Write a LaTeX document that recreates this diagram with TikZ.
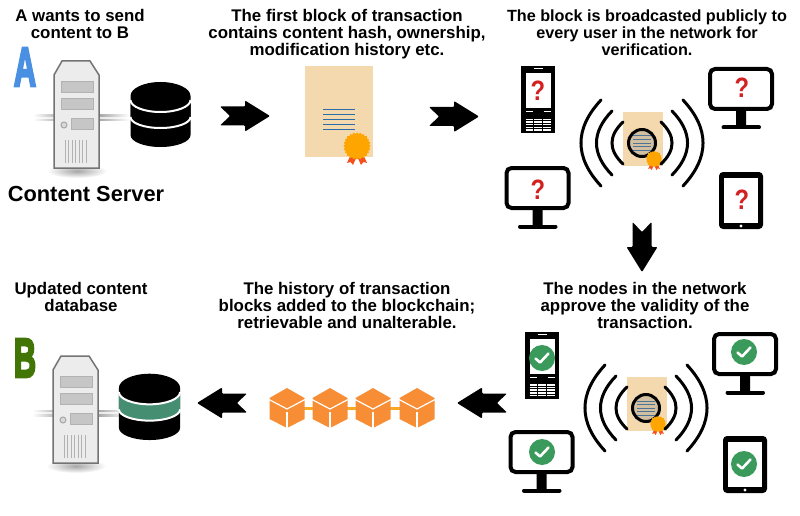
\documentclass[tikz,border=0pt]{standalone}
\usepackage{fontspec}
\setmainfont{Liberation Sans}
\newfontfamily\fatfont[UprightFont=* Bold,FakeBold=5]{Liberation Sans}
\definecolor{paper}{HTML}{F5D9AE}
\definecolor{sealc}{HTML}{FFA500}
\definecolor{ribbon}{HTML}{F4511E}
\definecolor{inkblue}{HTML}{2A6CA6}
\definecolor{cubec}{HTML}{F78D35}
\definecolor{linkc}{HTML}{F9A825}
\definecolor{okc}{HTML}{3A9A5C}
\definecolor{bandc}{HTML}{468E72}
\definecolor{qc}{HTML}{D32020}
\definecolor{letA}{HTML}{4A90E2}
\definecolor{letB}{HTML}{417505}
\tikzset{
legende/.style={align=center,font=\fontsize{16.85}{17}\selectfont\bfseries,inner sep=0pt,anchor=north},
lettre/.style={inner sep=0pt,text=#1,font=\fontsize{55}{55}\fatfont},
marque/.style={inner sep=0pt,text=qc,font=\fontsize{28}{28}\selectfont\bfseries},
lien/.style={linkc,line width=3pt},
onde/.style={line width=3pt,line cap=round},
arrowpic/.pic={\fill[rounded corners=1pt] (-25,-9.5) -- (-15,0) -- (-25,9.5) -- (0,9.5) -- (0,15.5) -- (25,0) -- (0,-15.5) -- (0,-9.5) -- cycle;},
sealpic/.pic={
\fill[ribbon] (-6,8) -- (-10,17) -- (-6.5,16) -- (-4,19) -- (0,10) -- cycle;
\fill[ribbon] (6,8) -- (10,17) -- (6.5,16) -- (4,19) -- (0,10) -- cycle;
\foreach \a in {0,15,...,75} \fill[sealc,rotate=\a] (-9.7,-9.7) rectangle (9.7,9.7);
\fill[sealc] (0,0) circle (11.2);},
serverpic/.pic={
\shade[inner color=gray!70,outer color=white] (23,110) ellipse (30 and 7);
\foreach \cx/\lc/\rc in {-21/white/gray!70,45/gray!70/white}
\shade[left color=\lc,right color=\rc] (\cx,54) rectangle (\cx+30,60);
\foreach \cx in {-21,45}
\fill[white,opacity=.75] (\cx,56) rectangle (\cx+30,58);
\draw[fill=gray!15,draw=gray!90!black,line width=1.5pt] (0,14) -- (8,0) -- (36,0) -- (45,14) -- (45,107) -- (0,107) -- cycle;
\foreach \by in {20,37} \draw[fill=gray!45,draw=gray!60] (7,\by) rectangle (39,\by+11);
\draw[fill=gray!45,draw=gray!60] (17,57) rectangle (39,68);
\draw[fill=gray!30,draw=gray!70,line width=1pt] (10,64) circle (3);
\foreach \gx in {11,14.5,...,34} \draw[gray!60,line width=.8pt] (\gx,79) -- (\gx,102);},
dbpic/.pic={
\fill (-30,0) -- (-30,39) arc[start angle=180,end angle=0,x radius=30,y radius=12] -- (30,0) arc[start angle=0,end angle=-180,x radius=30,y radius=14] -- cycle;
\fill[#1] (-30,4) arc[start angle=180,end angle=0,x radius=30,y radius=12] -- (30,21) arc[start angle=0,end angle=180,x radius=30,y radius=11] -- cycle;
\foreach \sy/\ry in {4/12,21/11}
\draw[white,line width=2pt] (-30,\sy) arc[start angle=180,end angle=0,x radius=30,y radius=\ry];},
dbpic/.default=black,
bigcert/.pic={
\fill[paper] (0,0) rectangle (68,91);
\foreach \ly in {44,49,...,64} \draw[inkblue,line width=1pt] (18,\ly) -- (50,\ly);
\pic at (52,80) {sealpic};},
smallcert/.pic={
\fill[paper] (-19.5,-31) rectangle (20.5,23);
\fill[paper!70!gray] (0,0) circle (13);
\foreach \ly in {-7,-3.5,...,7} \draw[inkblue!60!gray,line width=1pt] (-9,\ly) -- (9,\ly);
\draw[line width=3pt] (0,0) circle (13.5);
\pic[scale=.58] at (12,16) {sealpic};
\foreach \sg in {1,-1} {
\draw[onde] (\sg*19,-21) .. controls (\sg*33.7,-7) and (\sg*33.7,7) .. (\sg*19,21);
\draw[onde] (\sg*30,-32) .. controls (\sg*50.7,-10.7) and (\sg*50.7,10.7) .. (\sg*30,32);
\draw[onde] (\sg*41,-43) .. controls (\sg*67.7,-14.3) and (\sg*67.7,14.3) .. (\sg*41,43);
}},
monitorpic/.pic={
\draw[line width=4pt,rounded corners=5pt] (-31,-20) rectangle (31,20);
\fill[rounded corners=1pt] (-5,21) rectangle (5,38);
\draw[line width=4pt,line cap=round] (-17.5,38.5) -- (18,38.5);},
phonepic/.pic={
\fill (-17,-33.5) rectangle (17,33.5);
\fill[white] (-12.5,-26.5) rectangle (12.5,8.5);
\draw[white,line width=1pt] (-4.5,-30.5) -- (4.5,-30.5);
\foreach \bx in {-12,5.5} \draw[white,line width=1pt] (\bx,12.5) -- (\bx+7,12.5);
\foreach \ky in {20,22.6,...,31} \draw[white,line width=1.5pt] (-12.5,\ky) -- (12.5,\ky);
\foreach \kx in {-4.2,4.2} \draw[line width=1pt] (\kx,18) -- (\kx,32);},
tabletpic/.pic={
\fill[rounded corners=4pt] (-22,-28.5) rectangle (22,28.5);
\fill[white] (-17,-22.5) rectangle (17,22.5);
\fill[white] (0,25.5) circle (1.6);},
cubepic/.pic={
\fill[cubec] (0,-20) -- (17.5,-10) -- (17.5,11) -- (0,20) -- (-17.5,11) -- (-17.5,-10) -- cycle;
\draw[white,line width=1.2pt] (-18,-8.5) -- (0,1) -- (18,-8.5);
\draw[white,line width=1.2pt] (0,4) -- (0,20);},
okpic/.pic={
\fill[okc] (0,0) circle (13);
\draw[white,line width=2.6pt,line cap=round,line join=round] (-6.5,0.5) -- (-2,4.5) -- (6.5,-4.5);},
}
\begin{document}
\begin{tikzpicture}[x=1pt,y=-1pt]
\useasboundingbox (0,0) rectangle (800,516);

\node[legende] (t1) at (80,9.5) {A wants to send\\content to B};
\node[legende] (t2) at (347,9.5) {The first block of transaction\\contains content hash, ownership,\\modification history etc.};
\node[legende,font=\fontsize{16.2}{17}\selectfont\bfseries] (t3) at (647,9.5) {The block is broadcasted publicly to\\every user in the network for\\verification.};
\node[legende] (t4) at (645,282.5) {The nodes in the network\\approve the validity of the\\transaction.};
\node[legende] (t5) at (347,282.5) {The history of transaction\\blocks added to the blockchain;\\retrievable and unalterable.};
\node[legende] (t6) at (81,282.5) {Updated content\\database};
\node[inner sep=0pt,font=\fontsize{21.8}{22}\selectfont\bfseries] (cs) at (86,194) {Content Server};

\pic (srvA) at (54,61) {serverpic};
\pic (srvB) at (53,356) {serverpic};
\node[lettre=letA] (lA) at (25,67) {\scalebox{.56}[1]{A}};
\node[lettre=letB] (lB) at (25,358) {\scalebox{.56}[1]{B}};
\pic (dbA) at (160.5,96) {dbpic};
\pic[scale=1.02] (dbB) at (149.5,388) {dbpic=bandc};

\pic (ar1) at (245,116) {arrowpic};
\pic (ar2) at (454,116.5) {arrowpic};
\pic[rotate=-90] (ar3) at (642,247) {arrowpic};
\pic[rotate=180] (ar4) at (482,403) {arrowpic};
\pic[rotate=180] (ar5) at (222,403) {arrowpic};

\pic (cert) at (305,66) {bigcert};

\pic (brA) at (642,143) {smallcert};
\pic (phA) at (538,99.5) {phonepic};
\pic (moA) at (741,89) {monitorpic};
\pic (moB) at (537.5,188) {monitorpic};
\pic (taA) at (741,200.5) {tabletpic};
\node[marque] (q1) at (538,91) {\scalebox{.85}[1]{?}};
\node[marque] (q2) at (742,88) {\scalebox{.85}[1]{?}};
\node[marque] (q3) at (538,190) {\scalebox{.85}[1]{?}};
\node[marque] (q4) at (742,200) {\scalebox{.85}[1]{?}};

\pic (brB) at (646,408) {smallcert};
\pic (phB) at (542,365) {phonepic};
\pic (moC) at (745,354) {monitorpic};
\pic (moD) at (541.5,452) {monitorpic};
\pic (taB) at (745,464.5) {tabletpic};
\pic (ok1) at (542,358) {okpic};
\pic (ok2) at (744,352) {okpic};
\pic (ok3) at (542,452) {okpic};
\pic (ok4) at (744,464) {okpic};

\coordinate (c1) at (287,408);
\coordinate (c2) at (330,408);
\coordinate (c3) at (373,408);
\coordinate (c4) at (417,408);
\draw[lien] (c1) -- (c2);
\draw[lien] (c2) -- (c3);
\draw[lien] (c3) -- (c4);
\foreach \c in {c1,c2,c3,c4} \pic at (\c) {cubepic};

\end{tikzpicture}
\end{document}
